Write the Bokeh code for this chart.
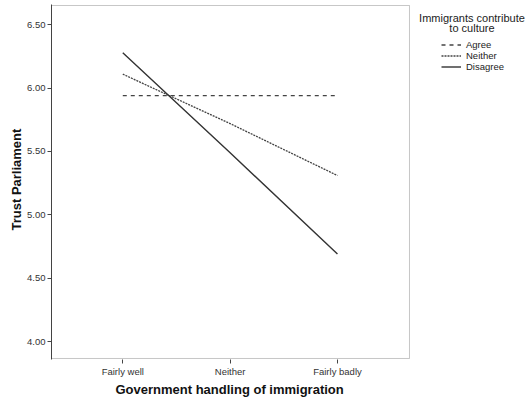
from bokeh.plotting import figure
from bokeh.models import Range1d, FixedTicker, Legend, LegendItem, Label, Title, BoxAnnotation, PrintfTickFormatter
from bokeh.embed import file_html
from bokeh.resources import INLINE

categories = ["Fairly well", "Neither", "Fairly badly"]
agree = [5.94, 5.94, 5.94]
neither = [6.11, 5.72, 5.31]
disagree = [6.28, 5.49, 4.69]
y_ticks = [4.00, 4.50, 5.00, 5.50, 6.00, 6.50]
series_names = ["Agree", "Neither", "Disagree"]
legend_title = ["Immigrants contribute", "to culture"]

xs = list(range(len(categories)))
FONT = "Liberation Sans"
AX = "#444444"

# plotting box (in data units) and a wider frame that also holds the legend
box_x = (-0.664, 2.671)
box_y = (3.866, 6.652)

p = figure(width=529, height=398, output_backend="svg", toolbar_location=None,
           x_range=Range1d(box_x[0], 3.789), y_range=Range1d(3.858, 6.660),
           min_border_left=51, min_border_right=0, min_border_top=4, min_border_bottom=39)
p.background_fill_color = "white"
p.border_fill_color = "white"
p.outline_line_color = None
p.grid.visible = False

p.add_layout(BoxAnnotation(left=box_x[0], right=box_x[1], bottom=box_y[0], top=box_y[1],
                           fill_alpha=0, line_color=AX, line_width=1))

r1 = p.line(xs, agree, line_color="#444444", line_width=1.3, line_dash="4 4")
r2 = p.line(xs, neither, line_color="#444444", line_width=1.3, line_dash="2 1")
r3 = p.line(xs, disagree, line_color="#333333", line_width=1.4)

for ax in (p.xaxis[0], p.yaxis[0]):
    ax.axis_line_color = AX
    ax.major_tick_line_color = AX
    ax.minor_tick_line_color = None
    ax.major_tick_in = 0
    ax.major_tick_out = 4
    ax.major_label_text_font = FONT
    ax.major_label_text_font_size = "9.5px"
    ax.major_label_text_color = "#333333"

p.xaxis.axis_line_color = None
p.xaxis.ticker = FixedTicker(ticks=xs)
p.xaxis.major_label_overrides = {i: c for i, c in zip(xs, categories)}
p.xaxis.major_label_standoff = 2

p.add_layout(Title(text="Government handling of immigration", align="left", offset=64, standoff=0,
                   text_font=FONT, text_font_size="13px", text_font_style="bold", text_color="#111111",
                   text_line_height=1.0),
             "below")

p.yaxis.ticker = FixedTicker(ticks=y_ticks)
p.yaxis.formatter = PrintfTickFormatter(format="%.2f")
p.yaxis.major_label_standoff = 2

p.add_layout(Title(text="Trust Parliament", align="left", offset=129, standoff=2,
                   text_font=FONT, text_font_size="13px", text_font_style="bold", text_color="#111111"),
             "left")

legend = Legend(items=[LegendItem(label=n, renderers=[r]) for n, r in zip(series_names, (r1, r2, r3))],
                location=(390, 287), padding=0, margin=0, spacing=0,
                glyph_width=20, glyph_height=11, label_height=11, label_standoff=5,
                label_text_font=FONT, label_text_font_size="9.5px", label_text_color="#222222",
                border_line_alpha=0, background_fill_alpha=0)
p.add_layout(legend, "center")

for i, t in enumerate(legend_title):
    p.add_layout(Label(x=3.253, y=6.554 - i * 0.079, text=t, text_align="center", text_baseline="middle",
                       text_font=FONT, text_font_size="11px", text_color="#222222"))

open("out.html", "w").write(file_html(p, INLINE))
